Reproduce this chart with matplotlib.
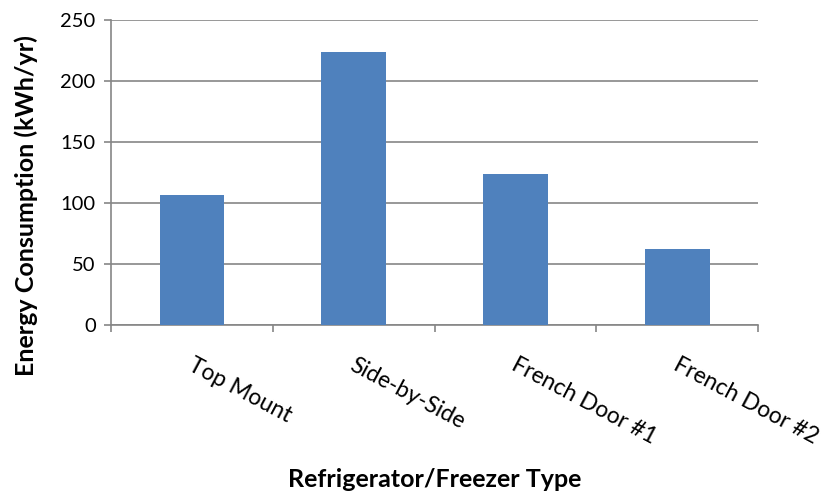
import numpy as np
import matplotlib.pyplot as plt

plt.rcParams['font.family'] = ['Lato', 'DejaVu Sans']

# data
types = ['Top Mount', 'Side-by-Side', 'French Door #1', 'French Door #2']
energy = [106.5, 224, 123.5, 62.5]
yticks = [0, 50, 100, 150, 200, 250]

fig = plt.figure(figsize=(8.24, 4.93), dpi=100)
ax = fig.add_axes([0.1347, 0.3408, 0.7853, 0.6186])

x = np.arange(len(types))
ax.bar(x, energy, width=0.4, color='#4F81BD', zorder=3)

ax.set_xlim(-0.5, len(types) - 0.5)
ax.set_ylim(0, 250)
ax.set_yticks(yticks)
ax.yaxis.grid(True, color='#868686', linewidth=1.2, zorder=0)

# Excel-like spines
for s in ['top', 'right']:
    ax.spines[s].set_visible(False)
for s in ['left', 'bottom']:
    ax.spines[s].set_color('#868686')
    ax.spines[s].set_linewidth(1.2)

# category boundary ticks on the x axis
ax.set_xticks(np.arange(len(types) + 1) - 0.5)
ax.set_xticklabels([])
ax.tick_params(axis='x', direction='out', length=5, width=1.2, color='#868686')
ax.tick_params(axis='y', direction='out', length=5, width=1.2, color='#868686',
               labelsize=14.5, pad=6)

for i, name in enumerate(types):
    ax.annotate(name, xy=(i, 0), xycoords=('data', 'axes fraction'),
                xytext=(2, -21), textcoords='offset points',
                rotation=-28, rotation_mode='anchor', ha='left', va='top',
                fontsize=16.5)

fig.text(26 / 824, 1 - 206 / 493, 'Energy Consumption (kWh/yr)', rotation=90,
         ha='center', va='center', fontsize=18, fontweight='bold')
fig.text(0.527, 0.004, 'Refrigerator/Freezer Type', ha='center', va='bottom',
         fontsize=18, fontweight='bold')

plt.savefig('out.png', dpi=100)
